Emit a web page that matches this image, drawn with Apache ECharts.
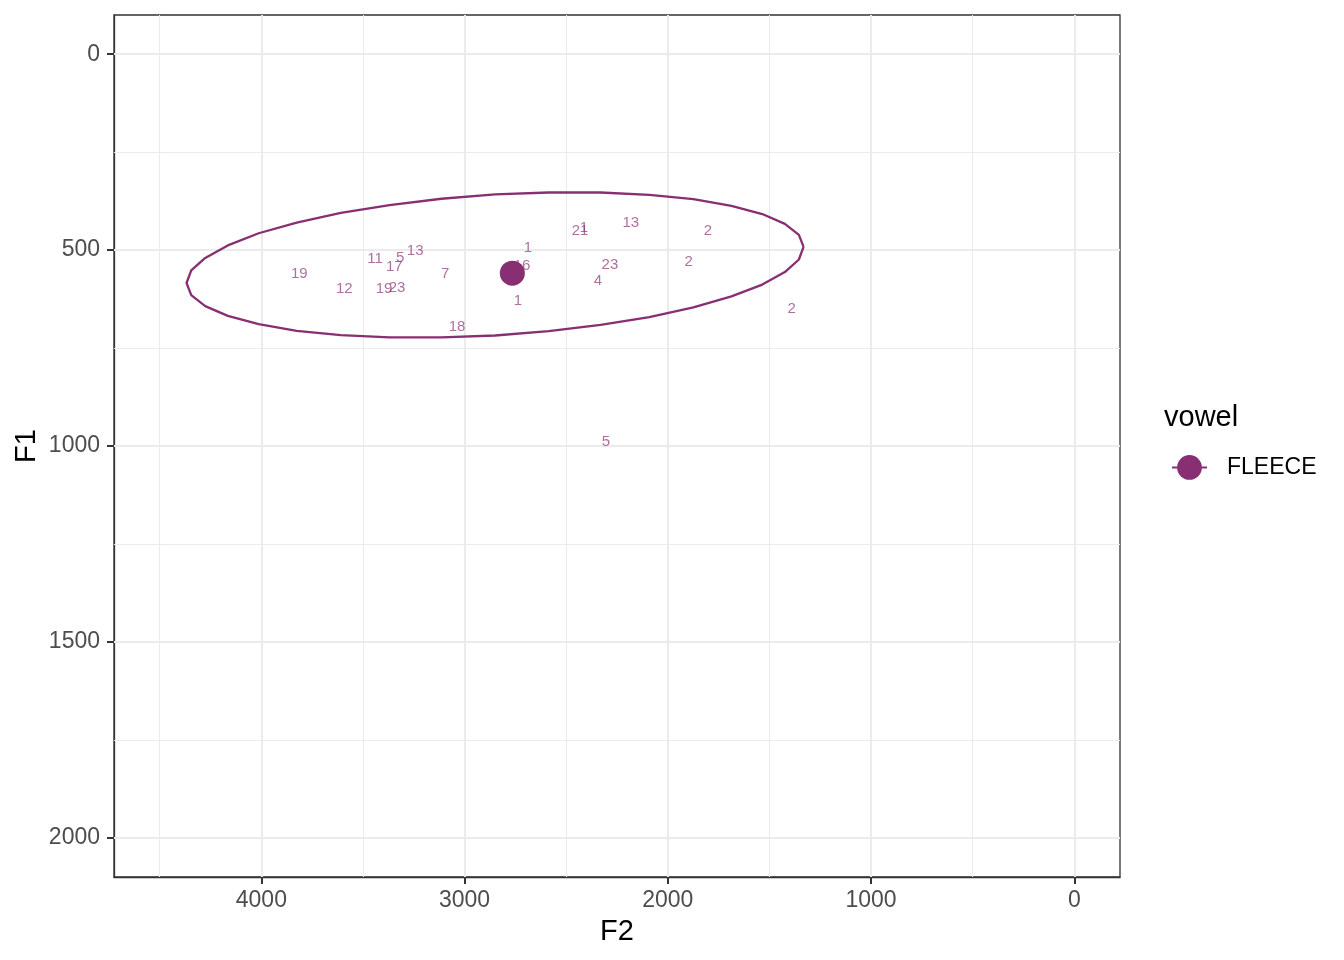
<!DOCTYPE html>
<html><head><meta charset="utf-8">
<script src="https://cdn.jsdelivr.net/npm/echarts@6/dist/echarts.min.js"></script>
<style>html,body{margin:0;padding:0;background:#fff}#c{width:1344px;height:960px}</style>
</head><body><div id="c"></div>
<script>
// token labels (speaker ids) and their formant values
const tokenLabels = ['19','12','11','5','13','17','19','23','7','18','1','16','1','21','1','13','23','4','2','2','2','5'];
const tokenF2 = [3813,3592,3440,3317,3243,3346,3396,3332,3096,3037,2688,2717,2737,2432,2413,2182,2285,2344,1803,1897,1391,2305];
const tokenF1 = [556,594,518,515,497,538,594,592,556,691,490,536,625,446,439,426,533,574,446,526,645,985];
// vowel mean
const meanF2 = [2765];
const meanF1 = [559];
// ellipse outline
const ellipseF2 = [1332,1355,1424,1535,1687,1874,2091,2331,2586,2850,3114,3369,3609,3826,4013,4165,4276,4345,4368,4345,4276,4165,4013,3826,3609,3369,3114,2850,2586,2331,2091,1874,1687,1535,1424,1355,1332];
const ellipseF1 = [492,524,556,588,618,646,671,691,707,718,723,723,717,706,689,668,643,615,584,552,520,488,457,430,405,385,369,358,353,353,359,370,387,408,433,461,492];
// axes
const xTicks = [0,1000,2000,3000,4000];
const xMinor = [500,1500,2500,3500,4500];
const yTicks = [0,500,1000,1500,2000];
const yMinor = [250,750,1250,1750];

const mainColor = '#882E72';
const font = 'Liberation Sans, Arial, Helvetica, sans-serif';

const chart = echarts.init(document.getElementById('c'), null, {renderer:'canvas'});

const gridLines = [];
xMinor.forEach(v => gridLines.push({xAxis: v, lineStyle:{width:1.1}}));
yMinor.forEach(v => gridLines.push({yAxis: v, lineStyle:{width:1.1}}));
xTicks.forEach(v => gridLines.push({xAxis: v, lineStyle:{width:2.1}}));
yTicks.forEach(v => gridLines.push({yAxis: v, lineStyle:{width:2.1}}));

const option = {
  backgroundColor: '#ffffff',
  animation: false,
  textStyle: {fontFamily: font},
  title: {
    text: 'vowel', left: 1164, top: 403, padding: 0,
    textStyle: {fontFamily: font, fontSize: 29, fontWeight: 'normal', color: '#000'}
  },
  legend: {
    data: ['FLEECE'], left: 1171, top: 455, padding: 0, orient: 'vertical',
    itemWidth: 35, itemHeight: 31, selectedMode: false,
    textStyle: {fontFamily: font, fontSize: 23, color: '#000', padding: [0,0,0,15]}
  },
  grid: {
    left: 114, right: 224, top: 15, bottom: 83, show: true,
    borderColor: '#333333', borderWidth: 1.3, backgroundColor: 'transparent',
    containLabel: false, outerBoundsMode: 'none'
  },
  xAxis: {
    type: 'value', inverse: true, min: -225, max: 4725,
    name: 'F2', nameLocation: 'middle', nameGap: 40, nameMoveOverlap: false,
    nameTextStyle: {fontFamily: font, fontSize: 29, color: '#000'},
    axisLine: {show: true, onZero: false, lineStyle: {color: '#333333', width: 1.3}},
    axisTick: {show: true, length: 7, customValues: xTicks, lineStyle: {color: '#333333', width: 2}},
    axisLabel: {show: true, margin: 12, customValues: xTicks, fontFamily: font, fontSize: 23, color: '#4D4D4D', formatter: v => String(v)},
    splitLine: {show: false}
  },
  yAxis: {
    type: 'value', inverse: true, min: -100, max: 2100,
    name: 'F1', nameLocation: 'middle', nameGap: 73, nameMoveOverlap: false,
    nameTextStyle: {fontFamily: font, fontSize: 29, color: '#000'},
    axisLine: {show: true, onZero: false, lineStyle: {color: '#333333', width: 1.3}},
    axisTick: {show: true, length: 7, customValues: yTicks, lineStyle: {color: '#333333', width: 2}},
    axisLabel: {show: true, margin: 14, customValues: yTicks, fontFamily: font, fontSize: 23, color: '#4D4D4D', lineHeight: 30, padding: [5,0,0,0], formatter: v => String(v)},
    splitLine: {show: false}
  },
  series: [
    {
      name: 'FLEECE', type: 'line', z: 4,
      data: meanF2.map((v, i) => [v, meanF1[i]]),
      symbol: 'circle', symbolSize: 25, showSymbol: true,
      itemStyle: {color: mainColor},
      lineStyle: {color: mainColor, width: 2.3}
    },
    {
      name: 'FLEECE', type: 'line', z: 3,
      data: ellipseF2.map((v, i) => [v, ellipseF1[i]]),
      symbol: 'none', smooth: false,
      lineStyle: {color: mainColor, width: 2.3},
      itemStyle: {color: mainColor}
    },
    {
      name: 'labels', type: 'scatter', z: 3,
      data: tokenF2.map((v, i) => [v, tokenF1[i], tokenLabels[i]]),
      symbolSize: 1,
      itemStyle: {color: 'rgba(0,0,0,0)'},
      label: {
        show: true, position: 'inside', offset: [0, 1.5], formatter: p => p.value[2],
        fontFamily: font, fontSize: 15, color: 'rgba(136,46,114,0.86)'
      }
    },
    {
      name: 'gridlines', type: 'line', data: [], z: 1,
      markLine: {
        silent: true, symbol: 'none', z: 1, animation: false,
        label: {show: false},
        lineStyle: {color: '#EBEBEB', type: 'solid'},
        data: gridLines
      }
    }
  ]
};
chart.setOption(option);
</script>
</body></html>
